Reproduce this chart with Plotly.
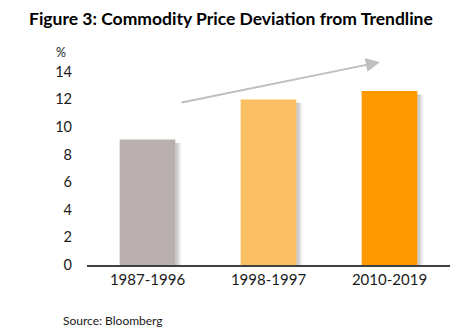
import plotly.graph_objects as go

# Chart data
periods = ["1987-1996", "1998-1997", "2010-2019"]
deviation_pct = [9.1, 12.0, 12.6]
bar_colors = ["#B9AFAE", "#FDBF63", "#FF9900"]
y_ticks = [0, 2, 4, 6, 8, 10, 12, 14]

# Trend arrow endpoints (category position, value)
trend_start = (0.27, 11.75)
trend_end = (1.92, 14.7)

W, H = 473, 334
L, R, T, B = 87, 23, 58, 69
BAR_W = 0.46

fig = go.Figure()

# Soft drop shadow to the right of each bar, built from stacked translucent strips
shapes = []
n_strips = 6
for i, v in enumerate(deviation_pct):
    x_right = i + BAR_W / 2
    for k in range(n_strips):
        shapes.append(dict(
            type="rect", xref="x", yref="y",
            x0=x_right, x1=x_right + 0.008 * (k + 1),
            y0=0, y1=v - 0.25,
            fillcolor="rgba(90,90,90,0.07)", line=dict(width=0), layer="below",
        ))

fig.add_trace(go.Bar(
    x=list(range(len(periods))), y=deviation_pct,
    width=BAR_W, marker=dict(color=bar_colors, line=dict(width=0)),
    hoverinfo="skip",
))

fig.update_layout(
    width=W, height=H,
    margin=dict(l=L, r=R, t=T, b=B),
    paper_bgcolor="white", plot_bgcolor="white",
    showlegend=False,
    font=dict(family="Lato, Open Sans, sans-serif", color="#1a1a1a"),
    xaxis=dict(
        range=[-0.5, 2.5], tickmode="array",
        tickvals=list(range(len(periods))), ticktext=periods,
        showgrid=False, zeroline=False,
        showline=True, linecolor="#404040", linewidth=1.5,
        ticks="", tickfont=dict(size=15, color="#1a1a1a"),
        fixedrange=True,
    ),
    yaxis=dict(
        range=[0, 15], tickmode="array", tickvals=y_ticks,
        showgrid=False, zeroline=False, showline=False,
        ticks="", ticklabelstandoff=14,
        tickfont=dict(size=14.5, color="#1a1a1a"),
        fixedrange=True,
    ),
    shapes=shapes,
    annotations=[
        dict(
            text="<b>Figure 3: Commodity Price Deviation from Trendline</b>",
            xref="paper", yref="paper", x=(231 - L) / (W - L - R),
            y=1 + (T - 18) / (H - T - B),
            xanchor="center", yanchor="middle", showarrow=False,
            font=dict(size=17.5, color="#000000"),
        ),
        dict(
            text="%", xref="paper", yref="paper",
            x=(68 - L) / (W - L - R), y=1 + (T - 52) / (H - T - B),
            xanchor="right", yanchor="middle", showarrow=False,
            font=dict(size=12.5, color="#1a1a1a"),
        ),
        dict(
            text="Source: Bloomberg", xref="paper", yref="paper",
            x=(61 - L) / (W - L - R), y=-(320 - (H - B)) / (H - T - B),
            xanchor="left", yanchor="middle", showarrow=False,
            font=dict(size=12, color="#1a1a1a"),
        ),
        dict(
            x=trend_end[0], y=trend_end[1], ax=trend_start[0], ay=trend_start[1],
            xref="x", yref="y", axref="x", ayref="y",
            text="", showarrow=True, arrowhead=2, arrowsize=1.4,
            arrowwidth=2, arrowcolor="#BFBFBF", standoff=0, startstandoff=0,
        ),
    ],
)

fig.write_html("out.html")
